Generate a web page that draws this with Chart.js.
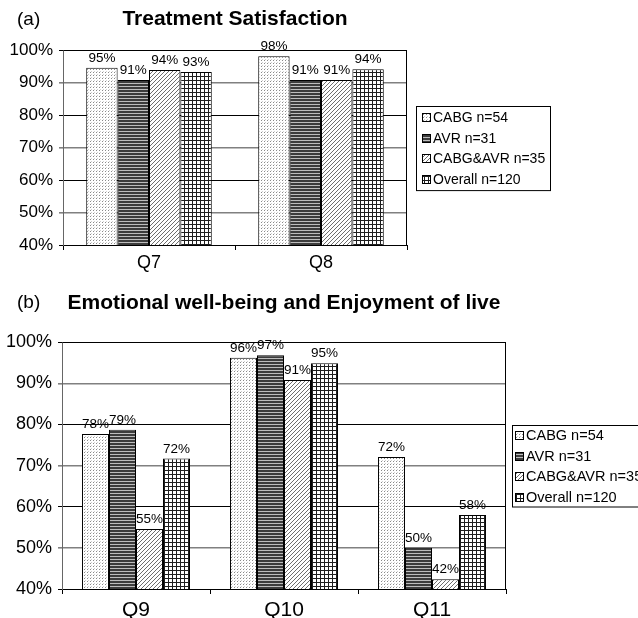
<!DOCTYPE html>
<html>
<head>
<meta charset="utf-8">
<script src="https://cdn.jsdelivr.net/npm/chart.js@4.4.1/dist/chart.umd.min.js"></script>
<style>
  body { margin: 0; background: #fff; }
  #wrap { position: relative; width: 638px; height: 618px; overflow: hidden; font-family: "Liberation Sans", Arial, sans-serif; }
  .panel { position: absolute; left: 17px; font-size: 19px; color: #000; line-height: 1; }
  canvas { position: absolute; left: 0; }
</style>
</head>
<body>
<div id="wrap">
  <canvas id="chartA" width="638" height="290" style="top:0"></canvas>
  <canvas id="chartB" width="638" height="328" style="top:290px"></canvas>
  <div class="panel" style="top:9px">(a)</div>
  <div class="panel" style="top:292px">(b)</div>
</div>
<script>
// 데이터
const groupLabels = ['CABG n=54', 'AVR n=31', 'CABG&AVR n=35', 'Overall n=120'];

// (a) Treatment Satisfaction
const satQuestions = ['Q7', 'Q8'];
const satCABG = [94.6, 98.1];
const satAVR = [90.8, 90.8];
const satBoth = [93.9, 90.8];
const satOverall = [93.3, 94.1];

// (b) Emotional well-being
const wellQuestions = ['Q9', 'Q10', 'Q11'];
const wellCABG = [77.7, 96.2, 72.1];
const wellAVR = [78.7, 96.8, 50.0];
const wellBoth = [54.6, 90.8, 42.4];
const wellOverall = [71.7, 94.9, 58.0];

const FONT = '"Liberation Sans", Arial, sans-serif';
Chart.defaults.font.family = FONT;
Chart.defaults.color = '#000';

// 흑백 패턴
function makePattern(kind) {
    const c = document.createElement('canvas');
    const g = c.getContext('2d');
    if (kind === 'dots') {
        c.width = 3; c.height = 3;
        g.fillStyle = '#fff'; g.fillRect(0, 0, 3, 3);
        g.fillStyle = '#8a8a8a'; g.fillRect(0, 0, 1, 1);
        g.fillStyle = '#d0d0d0'; g.fillRect(1, 2, 1, 1);
    } else if (kind === 'stripes') {
        c.width = 3; c.height = 3;
        g.fillStyle = '#bdbdbd'; g.fillRect(0, 0, 3, 3);
        g.fillStyle = '#3c3c3c'; g.fillRect(0, 0, 3, 2);
    } else if (kind === 'diag') {
        c.width = 4; c.height = 4;
        g.fillStyle = '#fff'; g.fillRect(0, 0, 4, 4);
        g.fillStyle = '#6e6e6e';
        for (let i = 0; i < 4; i++) g.fillRect(3 - i, i, 1, 1);
    } else {
        c.width = 4; c.height = 4;
        g.fillStyle = '#fff'; g.fillRect(0, 0, 4, 4);
        g.fillStyle = '#1e1e1e';
        g.fillRect(0, 0, 4, 1);
        g.fillRect(0, 0, 1, 4);
    }
    return g.createPattern(c, 'repeat');
}
const fills = [makePattern('dots'), makePattern('stripes'), makePattern('diag'), makePattern('grid')];

function makeDatasets(series) {
    return series.map((vals, i) => ({
        label: groupLabels[i],
        data: vals,
        backgroundColor: fills[i],
        borderColor: '#000',
        borderWidth: 1,
        barPercentage: 1,
        categoryPercentage: 0.73
    }));
}

// 값 라벨
const valueLabels = {
    id: 'valueLabels',
    afterDatasetsDraw(chart, args, opts) {
        const ctx = chart.ctx;
        ctx.save();
        ctx.font = opts.size + 'px ' + FONT;
        ctx.fillStyle = '#000';
        ctx.textAlign = 'center';
        ctx.textBaseline = 'bottom';
        chart.data.datasets.forEach((ds, i) => {
            chart.getDatasetMeta(i).data.forEach((bar, j) => {
                ctx.fillText(Math.round(ds.data[j]) + '%', bar.x, bar.y - 3);
            });
        });
        ctx.restore();
    }
};

// 플롯 테두리
const frame = {
    id: 'frame',
    afterDatasetsDraw(chart) {
        const {ctx, chartArea: a} = chart;
        ctx.save();
        ctx.strokeStyle = '#000';
        ctx.lineWidth = 1;
        ctx.beginPath();
        ctx.moveTo(Math.round(a.left) + 0.5, Math.round(a.top) + 0.5);
        ctx.lineTo(Math.round(a.right) - 0.5, Math.round(a.top) + 0.5);
        ctx.lineTo(Math.round(a.right) - 0.5, Math.round(a.bottom));
        ctx.stroke();
        ctx.restore();
    }
};

// 테두리 있는 레전드
const boxLegend = {
    id: 'boxLegend',
    afterDraw(chart, args, opts) {
        const {ctx, chartArea: a} = chart;
        const sets = chart.data.datasets;
        const h = opts.edge * 2 + opts.row * (sets.length - 1);
        const left = Math.round(a.right + opts.gap);
        const top = Math.round((a.top + a.bottom) / 2 - h / 2);
        ctx.save();
        ctx.font = opts.size + 'px ' + FONT;
        const textW = Math.max(...sets.map(d => ctx.measureText(d.label).width));
        const w = Math.round(opts.textX + textW + 5);
        ctx.fillStyle = '#fff';
        ctx.fillRect(left, top, w, h);
        ctx.strokeStyle = '#000';
        ctx.lineWidth = 1;
        ctx.strokeRect(left + 0.5, top + 0.5, w, h);
        sets.forEach((d, i) => {
            const cy = Math.round(top + opts.edge + i * opts.row);
            ctx.fillStyle = d.backgroundColor;
            ctx.fillRect(left + opts.boxX, cy - 4, 9, 9);
            ctx.strokeRect(left + opts.boxX + 0.5, cy - 3.5, 8, 8);
            ctx.fillStyle = '#000';
            ctx.textBaseline = 'middle';
            ctx.fillText(d.label, left + opts.textX, cy + 1);
        });
        ctx.restore();
    }
};

function gridColor(c) {
    const v = c.tick && c.tick.value;
    return (v === 90 || v === 70 || v === 50) ? '#808080' : '#000';
}
function gridWidth(c) {
    const v = c.tick && c.tick.value;
    return (v === 90 || v === 70 || v === 50) ? 1.6 : 1;
}

function makeConfig(cats, series, o) {
    return {
        type: 'bar',
        data: { labels: cats, datasets: makeDatasets(series) },
        options: {
            responsive: false,
            animation: false,
            layout: { padding: { left: 0, right: o.padRight, top: 0, bottom: o.padBottom } },
            plugins: {
                legend: { display: false },
                tooltip: { enabled: false },
                title: {
                    display: true,
                    text: o.title,
                    fullSize: false,
                    color: '#000',
                    font: { size: 21, weight: 'bold' },
                    padding: o.titlePad
                },
                valueLabels: { size: 13.5 },
                boxLegend: o.legend
            },
            scales: {
                x: {
                    grid: { display: true, drawOnChartArea: false, offset: true, tickLength: 5, color: '#000' },
                    border: { color: '#000' },
                    ticks: { font: { size: o.xFont }, color: '#000', padding: o.xPad },
                    afterFit: s => { s.height = o.xHeight; }
                },
                y: {
                    min: 40,
                    max: 100,
                    ticks: {
                        stepSize: 10,
                        padding: 6,
                        color: '#000',
                        font: { size: o.yFont },
                        callback: v => v + '%'
                    },
                    grid: { color: gridColor, lineWidth: gridWidth, tickLength: 4 },
                    border: { color: '#666' },
                    afterFit: s => { s.width = o.yWidth; }
                }
            }
        },
        plugins: [valueLabels, frame, boxLegend]
    };
}

new Chart(document.getElementById('chartA'), makeConfig(
    satQuestions,
    [satCABG, satAVR, satBoth, satOverall],
    {
        title: 'Treatment Satisfaction',
        titlePad: { top: 7, bottom: 18 },
        padRight: 231, padBottom: 17,
        xFont: 18, xPad: 2, xHeight: 28,
        yFont: 17, yWidth: 63,
        legend: { gap: 9, edge: 11, row: 20.7, size: 14, boxX: 6, textX: 17 }
    }
));

new Chart(document.getElementById('chartB'), makeConfig(
    wellQuestions,
    [wellCABG, wellAVR, wellBoth, wellOverall],
    {
        title: 'Emotional well-being and Enjoyment of live',
        titlePad: { top: 1, bottom: 26 },
        padRight: 132, padBottom: 0,
        xFont: 21, xPad: 4, xHeight: 29,
        yFont: 18, yWidth: 62,
        legend: { gap: 6, edge: 10, row: 20.5, size: 14.5, boxX: 3, textX: 14 }
    }
));
</script>
</body>
</html>
